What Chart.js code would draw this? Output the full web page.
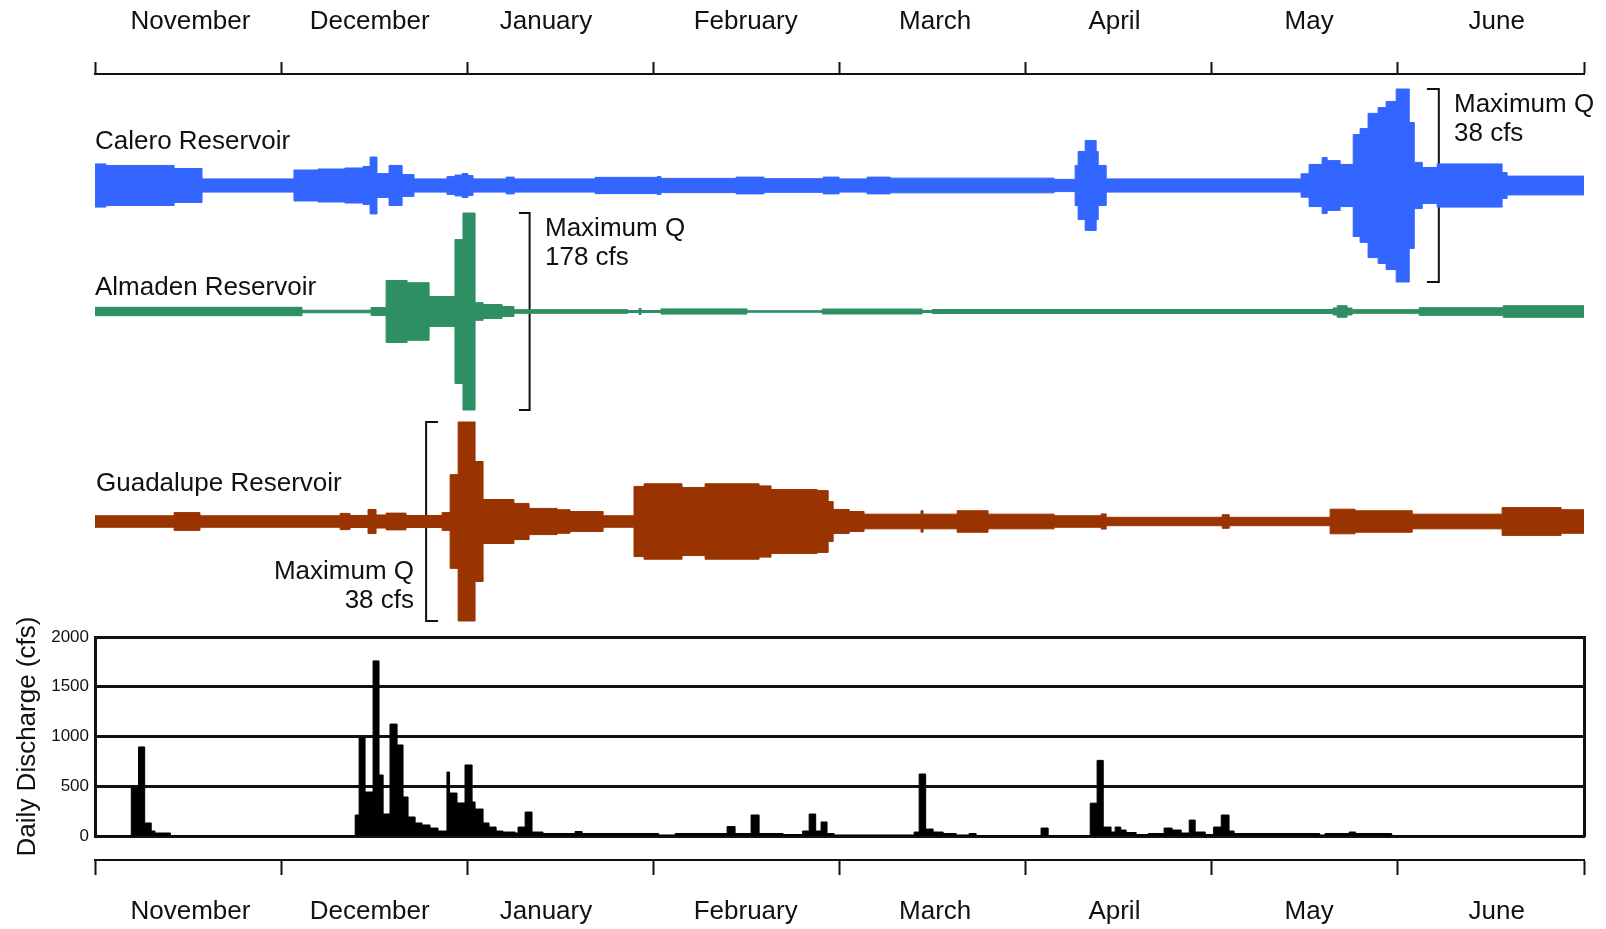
<!DOCTYPE html>
<html>
<head>
<meta charset="utf-8">
<script src="https://cdn.jsdelivr.net/npm/chart.js@4/dist/chart.umd.min.js"></script>
<style>
  html, body { margin: 0; padding: 0; background: #fff; }
  #wrap { position: relative; width: 1606px; height: 929px; overflow: hidden;
          font-family: "Liberation Sans", Arial, sans-serif; color: #111; }
  canvas { position: absolute; left: 0; }
  #ribbons { top: 0; }
  #discharge { top: 590px; }
  .lbl { position: absolute; font-size: 26px; line-height: 30px; white-space: nowrap; }
  .maxq { line-height: 29px; }
</style>
</head>
<body>
<div id="wrap">
  <canvas id="ribbons" width="1606" height="640"></canvas>
  <canvas id="discharge" width="1606" height="339"></canvas>
  <div class="lbl" style="left:95px; top:125px">Calero Reservoir</div>
  <div class="lbl" style="left:95px; top:271px">Almaden Reservoir</div>
  <div class="lbl" style="left:96px; top:467px">Guadalupe Reservoir</div>
  <div class="lbl maxq" style="left:1454px; top:89px">Maximum Q<br>38 cfs</div>
  <div class="lbl maxq" style="left:545px; top:213px">Maximum Q<br>178 cfs</div>
  <div class="lbl maxq" style="right:1192px; top:556px; text-align:right">Maximum Q<br>38 cfs</div>
</div>
<script>
const months = ["November", "December", "January", "February", "March", "April", "May", "June"];
// month boundaries and where each month name sits (months after 1 November)
const monthStarts = [0, 1, 2, 3, 4, 5, 6, 7, 8];
const monthLabelAt = [0.513, 1.476, 2.423, 3.496, 4.514, 5.477, 6.523, 7.531];

// x = months after 1 November, flows in cfs; each value holds until the next x
const caleroMaxQ = 38;
const caleroX = [0, 0.059, 0.425, 0.575, 1.069, 1.198, 1.343, 1.440, 1.478, 1.515,
  1.580, 1.650, 1.714, 1.891, 1.934, 1.972, 2.004, 2.031, 2.209, 2.252,
  2.687, 3.020, 3.041, 3.444, 3.595, 3.912, 3.998, 4.148, 4.272, 5.153,
  5.266, 5.282, 5.320, 5.379, 5.390, 5.433, 6.480, 6.523, 6.593, 6.620,
  6.690, 6.760, 6.797, 6.840, 6.894, 6.937, 6.991, 7.061, 7.088, 7.131,
  7.211, 7.560, 7.587, 8];
const caleroQ = [8.5, 7.9, 6.7, 2.6, 6.1, 6.5, 6.9, 7.5, 11.2, 4.7,
  7.9, 4.3, 2.6, 3.5, 4.1, 4.7, 3.9, 2.6, 3.3, 2.6,
  3.2, 3.5, 2.8, 3.3, 2.7, 3.3, 2.6, 3.3, 2.9, 2.4,
  7.9, 13.4, 17.7, 13.4, 7.9, 2.6, 4.6, 8.3, 11.0, 9.8,
  8.3, 20.1, 22.4, 28.4, 30.7, 33.1, 38.0, 24.8, 9.1, 7.1,
  8.5, 5.1, 3.7, 3.7];

const almadenMaxQ = 178;
const almadenX = [0, 1.112, 1.483, 1.564, 1.677, 1.795, 1.934, 1.977, 2.042, 2.085,
  2.187, 2.251, 2.864, 2.923, 2.934, 3.041, 3.503, 3.907, 4.444, 4.498,
  6.652, 6.674, 6.727, 6.754, 7.114, 7.566, 8];
const almadenQ = [7.6, 2.3, 7.2, 56, 52, 27, 130, 178, 16, 12.6,
  9.0, 3.3, 1.8, 5.4, 1.8, 4.7, 1.4, 4.5, 1.8, 3.6,
  6.3, 10.5, 6.3, 3.3, 6.9, 10.5, 10.5];

const guadalupeMaxQ = 38;
const guadalupeX = [0, 0.425, 0.564, 1.317, 1.370, 1.467, 1.510, 1.564, 1.671, 1.865,
  1.908, 1.951, 2.042, 2.085, 2.251, 2.332, 2.483, 2.552, 2.730, 2.896,
  2.950, 3.154, 3.278, 3.568, 3.632, 3.880, 3.939, 3.966, 4.052, 4.132,
  4.438, 4.449, 4.632, 4.798, 5.153, 5.406, 5.433, 6.056, 6.094, 6.636,
  6.770, 7.077, 7.560, 7.877, 8];
const guadalupeQ = [2.2, 3.4, 2.2, 3.1, 2.3, 4.6, 2.5, 3.2, 2.3, 3.4,
  17.9, 38, 22.9, 8.4, 6.9, 5.0, 4.5, 3.8, 2.2, 13.4,
  14.4, 13.0, 14.4, 13.6, 12.2, 11.8, 7.6, 4.6, 3.8, 2.8,
  4.1, 2.8, 4.1, 2.8, 2.2, 2.9, 1.6, 2.6, 1.6, 4.7,
  4.1, 2.8, 5.3, 4.5, 4.5];

// daily discharge (cfs)
const dischargeX = [0, 0.195, 0.234, 0.267, 0.302, 0.322, 0.405, 1.398, 1.419, 1.451,
  1.494, 1.526, 1.548, 1.585, 1.623, 1.655, 1.682, 1.720, 1.757, 1.800,
  1.843, 1.891, 1.905, 1.945, 1.988, 2.026, 2.042, 2.085, 2.117, 2.155,
  2.192, 2.257, 2.273, 2.311, 2.348, 2.407, 2.579, 2.617, 3.028, 3.117,
  3.396, 3.439, 3.525, 3.568, 3.697, 3.802, 3.837, 3.872, 3.901, 3.933,
  3.971, 4.401, 4.428, 4.463, 4.503, 4.557, 4.627, 4.696, 4.734, 5.083,
  5.121, 5.347, 5.384, 5.417, 5.459, 5.481, 5.511, 5.540, 5.594, 5.658,
  5.744, 5.787, 5.836, 5.879, 5.911, 5.965, 6.010, 6.051, 6.093, 6.120,
  6.580, 6.609, 6.738, 6.773, 6.967, 8];
const dischargeQ = [0, 482, 895, 131, 50, 30, 0, 211, 985, 442,
  1760, 613, 221, 1125, 915, 392, 191, 131, 111, 80,
  50, 643, 432, 332, 714, 342, 271, 131, 90, 50,
  40, 30, 90, 241, 40, 25, 45, 25, 10, 25,
  95, 25, 211, 25, 15, 50, 221, 50, 141, 25,
  10, 40, 623, 70, 40, 25, 10, 25, 5, 80,
  5, 330, 760, 90, 40, 90, 60, 35, 15, 25,
  80, 60, 30, 160, 40, 15, 90, 211, 50, 25,
  10, 25, 40, 25, 0, 0];
const dischargeTicks = [0, 500, 1000, 1500, 2000];

const ink = "#111";
const AREA_TOP = 74, AREA_BOTTOM = 640;
const PLOT_LEFT = 95, PLOT_RIGHT_GAP = 22;

// each ribbon gets its own hidden axis, centred on its band
function ribbonAxis(centre, bandPx, maxQ) {
  const k = bandPx / maxQ;
  return { display: false, min: -(AREA_BOTTOM - centre) / k, max: (centre - AREA_TOP) / k };
}

// upper edge fills down to the lower edge (next dataset)
function ribbon(xs, qs, axis, color, sign) {
  return {
    data: xs.map((x, i) => ({ x: x, y: sign * qs[i] / 2 })),
    xAxisID: "x", yAxisID: axis,
    stepped: true, fill: sign > 0 ? "+1" : false,
    backgroundColor: color, borderColor: color, borderWidth: 1, pointRadius: 0
  };
}

const brackets = [
  { axis: "yCal", x: 7.22, arm: -0.064, q: caleroMaxQ },
  { axis: "yAlm", x: 2.335, arm: -0.057, q: almadenMaxQ },
  { axis: "yGua", x: 1.779, arm: 0.064, q: guadalupeMaxQ }
];

const colors = { calero: "#3366ff", almaden: "#2e8f64", guadalupe: "#993300" };

var datasets = [
  ribbon(caleroX, caleroQ, "yCal", colors.calero, 1),
  ribbon(caleroX, caleroQ, "yCal", colors.calero, -1),
  ribbon(almadenX, almadenQ, "yAlm", colors.almaden, 1),
  ribbon(almadenX, almadenQ, "yAlm", colors.almaden, -1),
  ribbon(guadalupeX, guadalupeQ, "yGua", colors.guadalupe, 1),
  ribbon(guadalupeX, guadalupeQ, "yGua", colors.guadalupe, -1)
];
brackets.forEach(function(b) {
  datasets.push({
    data: [
      { x: b.x + b.arm, y: b.q / 2 }, { x: b.x, y: b.q / 2 },
      { x: b.x, y: -b.q / 2 }, { x: b.x + b.arm, y: -b.q / 2 }
    ],
    xAxisID: "x", yAxisID: b.axis,
    borderColor: ink, borderWidth: 2, fill: false, pointRadius: 0, clip: false
  });
});

// month axis: even ticks are the month boundaries (tick marks), odd ticks carry the names.
// tick padding also pads the plot's sides, so the label gap is made with lineHeight instead
function monthAxis(position, tickLength, lineHeight, size) {
  return {
    type: "linear", min: 0, max: 8, position: position,
    afterBuildTicks: function(scale) {
      var t = [];
      months.forEach(function(m, i) {
        t.push({ value: monthStarts[i] });
        t.push({ value: monthLabelAt[i] });
      });
      t.push({ value: monthStarts[8] });
      scale.ticks = t;
    },
    grid: {
      drawOnChartArea: false, tickLength: tickLength, tickWidth: 2,
      tickColor: ctx => (ctx.index % 2 ? "rgba(0,0,0,0)" : ink)
    },
    border: { display: true, color: ink, width: 2 },
    ticks: {
      color: ink, font: { family: "Liberation Sans", size: 26, lineHeight: lineHeight },
      padding: 3, maxRotation: 0, autoSkip: false,
      callback: (v, i) => (i % 2 ? months[(i - 1) / 2] : "")
    },
    afterFit: function(scale) { scale.height = size; }
  };
}

// empty side axis used only to fix the plot's left/right edges
function sideAxis(position, width, showBorder) {
  return {
    type: "linear", axis: "y", position: position,
    ticks: { display: false }, grid: { display: false },
    border: { display: showBorder, color: ink, width: 3 },
    afterFit: function(scale) { scale.width = width; }
  };
}

new Chart(document.getElementById("ribbons"), {
  type: "line",
  data: { datasets: datasets },
  options: {
    responsive: false,
    animation: false,
    layout: { padding: 0 },
    plugins: { legend: { display: false }, tooltip: { enabled: false } },
    scales: {
      x: { type: "linear", min: 0, max: 8, display: false },
      months: monthAxis("top", 12, "75px", AREA_TOP),
      sideL: sideAxis("left", PLOT_LEFT, false),
      sideR: sideAxis("right", PLOT_RIGHT_GAP, false),
      yCal: ribbonAxis(185.5, 193, caleroMaxQ),
      yAlm: ribbonAxis(311.5, 197, almadenMaxQ),
      yGua: ribbonAxis(521.5, 199, guadalupeMaxQ)
    }
  }
});

var bottomMonths = monthAxis("bottom", 15, "67px", 69);
bottomMonths.weight = 1;

new Chart(document.getElementById("discharge"), {
  type: "line",
  data: {
    datasets: [{
      data: dischargeX.map((x, i) => ({ x: x, y: dischargeQ[i] })),
      stepped: true, fill: "origin",
      backgroundColor: "#000", borderColor: "#000", borderWidth: 1, pointRadius: 0
    }]
  },
  options: {
    responsive: false,
    animation: false,
    layout: { padding: { left: 0, right: 0, top: 47, bottom: 0 } },
    plugins: { legend: { display: false }, tooltip: { enabled: false } },
    scales: {
      x: {
        type: "linear", min: 0, max: 8, position: "bottom", weight: 0,
        ticks: { display: false }, grid: { display: false },
        border: { display: true, color: ink, width: 3 },
        afterFit: function(scale) { scale.height = 24; }
      },
      months: bottomMonths,
      y: {
        min: 0, max: 2000,
        afterBuildTicks: function(scale) { scale.ticks = dischargeTicks.map(v => ({ value: v })); },
        ticks: { color: ink, font: { family: "Liberation Sans", size: 17 }, padding: 6,
                 callback: v => String(v) },
        grid: { color: ink, lineWidth: 3, drawTicks: false },
        border: { display: true, color: ink, width: 3 },
        title: { display: true, text: "Daily Discharge (cfs)", color: ink,
                 font: { family: "Liberation Sans", size: 26 }, padding: { top: 12, bottom: 0 } },
        afterFit: function(scale) { scale.width = PLOT_LEFT; }
      },
      yRight: sideAxis("right", PLOT_RIGHT_GAP, true)
    }
  }
});
</script>
</body>
</html>
